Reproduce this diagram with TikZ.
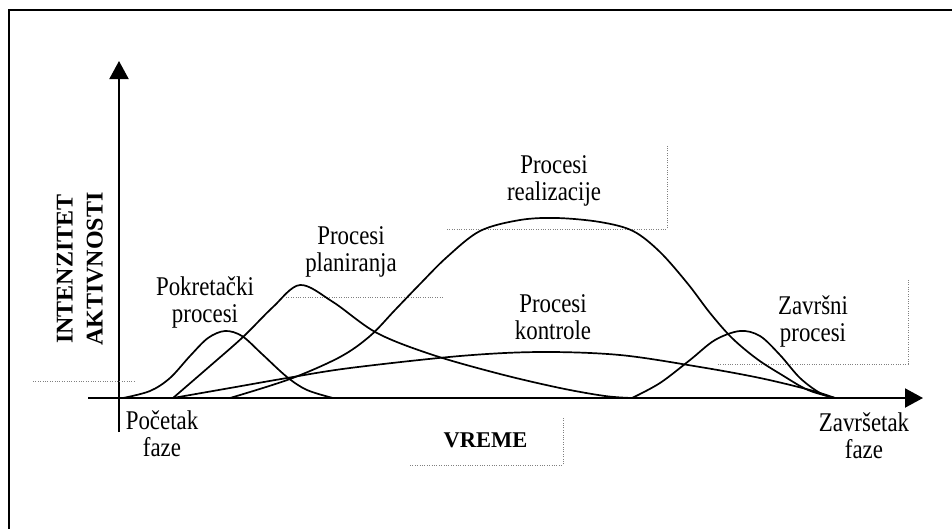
\documentclass[tikz,border=0pt]{standalone}
\usepackage{fontspec}
\setmainfont{Liberation Serif}
\usepackage{graphicx}
\usetikzlibrary{arrows.meta}

\newcommand{\twolines}[2]{\scalebox{0.88}[1.04]{\begin{tabular}{@{}c@{}}#1\\#2\end{tabular}}}

\begin{document}
\begin{tikzpicture}[x=1pt,y=-1pt,
  axis/.style={line width=2pt,-{Triangle[length=18pt,width=19pt]}},
  curve/.style={line width=1.7pt,smooth,tension=0.55},
  guide/.style={gray,line width=0.9pt,dash pattern=on 1pt off 1.4pt},
  lbl/.style={font=\fontsize{26}{26}\selectfont,inner sep=0pt}]

\useasboundingbox (0,0) rectangle (952,528);
\draw[line width=2.6pt] (9,10) rectangle (990,570);

\coordinate (ybot) at (119,432);
\coordinate (ytop) at (119,61);
\coordinate (xleft) at (88,398);
\coordinate (xright) at (923,398);
\draw[axis] (ybot) -- (ytop);
\draw[axis] (xleft) -- (xright);

\draw[guide] (33,381) -- (136,381);
\draw[guide] (286,297) -- (443,297);
\draw[guide] (447,229) -- (667,229) -- (667,145);
\draw[guide] (718,364) -- (908,364) -- (908,280);
\draw[guide] (410,465) -- (563,465) -- (563,417);

\draw[curve] plot coordinates {(123,398) (150,391) (170,378) (190,356) (208,338) (225,331) (242,336) (262,354) (287,377) (307,390) (333,398)};
\draw[curve] plot coordinates {(173,398) (210,366) (243,337) (273,307) (300,285) (333,302) (377,333) (433,355) (500,374) (560,388) (605,396) (632,398)};
\draw[curve] plot coordinates {(173,398) (230,388) (287,378) (350,368) (460,356) (540,352) (620,355) (700,367) (760,378) (810,390) (835,398)};
\draw[curve] plot coordinates {(230,398) (290,379) (340,357) (370,336) (395,310) (420,284) (447,257) (480,231) (520,220) (557,218) (600,222) (633,231) (660,252) (688,284) (710,313) (732,338) (757,359) (782,375) (808,390) (835,398)};
\draw[curve] plot coordinates {(632,398) (660,383) (690,360) (715,340) (740,331) (760,336) (780,355) (800,378) (820,393) (835,398)};

\node[lbl] (pokretacki) at (205,303.8) {\twolines{Pokretački}{procesi}};
\node[lbl] (planiranje) at (351,252.8) {\twolines{Procesi}{planiranja}};
\node[lbl] (realizacija) at (554,181.8) {\twolines{Procesi}{realizacije}};
\node[lbl] (kontrola) at (553,320.8) {\twolines{Procesi}{kontrole}};
\node[lbl] (zavrsni) at (813,323) {\twolines{Završni}{procesi}};
\node[lbl] (pocetak) at (162,437.8) {\twolines{Početak}{faze}};
\node[lbl] (zavrsetak) at (864,439.8) {\twolines{Završetak}{faze}};
\node[inner sep=0pt,font=\bfseries\fontsize{22.5}{27}\selectfont] (vreme) at (485.5,440) {VREME};
\node[inner sep=0pt,rotate=90,align=center,font=\bfseries\fontsize{24}{30}\selectfont] (intenzitet) at (80,269) {INTENZITET\\AKTIVNOSTI};

\end{tikzpicture}
\end{document}
